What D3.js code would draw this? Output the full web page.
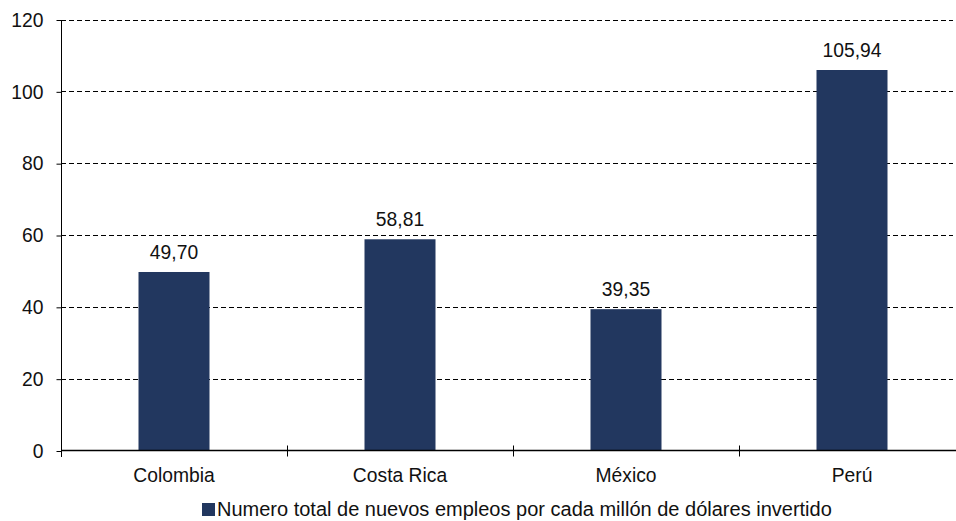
<!DOCTYPE html>
<html>
<head>
<meta charset="utf-8">
<script src="https://cdn.jsdelivr.net/npm/d3@7"></script>
<style>
  html, body { margin: 0; padding: 0; background: #fff; }
  svg { display: block; font-family: "Liberation Sans", Arial, sans-serif; }
</style>
</head>
<body>
<svg id="chart" width="956" height="521"></svg>
<script>
const categories = ["Colombia", "Costa Rica", "México", "Perú"];
const values = [49.70, 58.81, 39.35, 105.94];
const yTicks = [0, 20, 40, 60, 80, 100, 120];
const seriesName = "Numero total de nuevos empleos por cada millón de dólares invertido";

const svg = d3.select("#chart");
const W = 956;
const plotLeft = 61, plotRight = 965, plotTop = 19.5, plotBottom = 450.5;
const barColor = "#22375f";
const fontSize = 19.3;
const textColor = "#111";

const x = d3.scaleBand().domain(categories).range([plotLeft, plotRight]).padding(0);
const y = d3.scaleLinear().domain([0, 120]).range([plotBottom, plotTop]);

// horizontal dashed gridlines
svg.append("g").selectAll("line")
  .data(yTicks.filter(d => d > 0))
  .join("line")
  .attr("x1", plotLeft).attr("x2", W - 3)
  .attr("y1", d => Math.round(y(d)) + 0.5).attr("y2", d => Math.round(y(d)) + 0.5)
  .attr("stroke", "#000").attr("stroke-width", 1)
  .attr("stroke-dasharray", "5,3");

// bars
const barW = 71;
svg.append("g").selectAll("rect")
  .data(values)
  .join("rect")
  .attr("x", (d, i) => x(categories[i]) + x.bandwidth() / 2 - barW / 2)
  .attr("y", d => y(d))
  .attr("width", barW)
  .attr("height", d => plotBottom - y(d))
  .attr("fill", barColor);

// value labels
svg.append("g").selectAll("text")
  .data(values)
  .join("text")
  .attr("x", (d, i) => x(categories[i]) + x.bandwidth() / 2)
  .attr("y", d => y(d) - 13)
  .attr("text-anchor", "middle")
  .attr("font-size", fontSize)
  .attr("fill", textColor)
  .text(d => d.toFixed(2).replace(".", ","));

// y axis
const yAxis = d3.axisLeft(y).tickValues(yTicks).tickSize(5).tickPadding(13);
const gy = svg.append("g").attr("transform", `translate(${plotLeft + 0.5},0.5)`).call(yAxis);
gy.select(".domain").attr("d", `M0,${plotTop}V${plotBottom + 6}`).attr("stroke", "#000");
gy.selectAll("text").attr("font-size", fontSize).attr("fill", textColor)
  .attr("font-family", "Liberation Sans, Arial, sans-serif");

// x axis
const gx = svg.append("g").attr("transform", `translate(0,${plotBottom})`);
gx.append("line").attr("x1", plotLeft).attr("x2", W).attr("y1", 0).attr("y2", 0)
  .attr("stroke", "#000").attr("stroke-width", 1.5);
// category boundary ticks
const bounds = categories.slice(1).map(c => x(c));
gx.selectAll("line.tick").data(bounds).join("line")
  .attr("class", "tick")
  .attr("x1", d => Math.round(d) + 0.5).attr("x2", d => Math.round(d) + 0.5)
  .attr("y1", -5).attr("y2", 6)
  .attr("stroke", "#000");
gx.selectAll("text").data(categories).join("text")
  .attr("x", d => x(d) + x.bandwidth() / 2)
  .attr("y", 31)
  .attr("text-anchor", "middle")
  .attr("font-size", fontSize)
  .attr("fill", textColor)
  .text(d => d);

// legend
const lg = svg.append("g").attr("transform", "translate(202,503)");
lg.append("rect").attr("width", 13).attr("height", 13).attr("fill", barColor);
lg.append("text").attr("x", 15).attr("y", 13).attr("font-size", 20).attr("fill", textColor).text(seriesName);
</script>
</body>
</html>
